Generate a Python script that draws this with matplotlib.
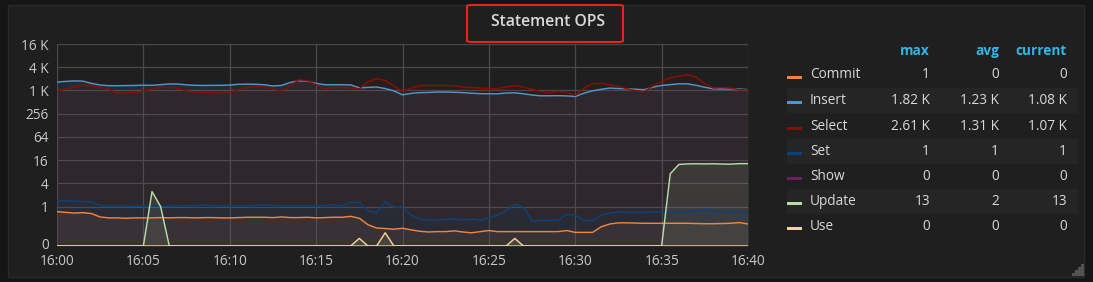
import numpy as np
import matplotlib
matplotlib.use("Agg")
import matplotlib.pyplot as plt
import matplotlib.transforms as mtransforms
from matplotlib.patches import Rectangle, FancyBboxPatch
from matplotlib.lines import Line2D

# minutes after 16:00, one sample every 30 s
minutes = np.arange(0, 40.5, 0.5)

series_names = ["Commit", "Insert", "Select", "Set", "Show", "Update", "Use"]
series_colors = ["#EF843C", "#5195CE", "#890F02", "#0A437C", "#6D1F62", "#B7DBAB", "#F4D598"]

commit = [0.74, 0.71, 0.68, 0.70, 0.66, 0.54, 0.51, 0.51, 0.50, 0.51,
          0.51, 0.51, 0.52, 0.51, 0.52, 0.52, 0.51, 0.52, 0.52, 0.51,
          0.51, 0.52, 0.53, 0.53, 0.53, 0.52, 0.54, 0.52, 0.52, 0.53,
          0.51, 0.52, 0.53, 0.53, 0.56, 0.50, 0.34, 0.28, 0.27, 0.26,
          0.275, 0.25, 0.23, 0.22, 0.225, 0.225, 0.235, 0.22, 0.21, 0.225,
          0.24, 0.225, 0.225, 0.225, 0.225, 0.225, 0.225, 0.225, 0.225, 0.24,
          0.215, 0.215, 0.215, 0.30, 0.355, 0.38, 0.38, 0.375, 0.37, 0.37,
          0.37, 0.37, 0.37, 0.37, 0.365, 0.36, 0.36, 0.365, 0.37, 0.385,
          0.356]

insert = [1690, 1760, 1810, 1790, 1560, 1420, 1360, 1360, 1370, 1380,
          1400, 1390, 1450, 1510, 1500, 1430, 1390, 1380, 1390, 1390,
          1420, 1480, 1490, 1480, 1440, 1340, 1380, 1650, 1820, 1790,
          1560, 1440, 1440, 1440, 1430, 1200, 1230, 1260, 1150, 1000,
          790, 860, 900, 910, 930, 935, 920, 900, 870, 845,
          840, 840, 880, 890, 840, 780, 745, 745, 750, 740,
          715, 870, 1000, 1100, 1180, 1150, 1130, 1100, 1070, 1250,
          1380, 1450, 1520, 1520, 1390, 1240, 1130, 1120, 1120, 1110,
          1080]

select = [960, 1130, 1270, 1380, 1380, 1240, 1110, 880, 890, 910,
          1000, 1100, 1255, 1240, 1170, 1000, 920, 910, 890, 875,
          930, 1070, 1230, 1270, 1300, 1130, 970, 1350, 1940, 1850,
          1440, 1130, 1220, 1240, 1180, 1130, 1720, 2070, 1860, 1350,
          960, 1170, 1380, 1380, 1370, 1380, 1355, 1270, 1220, 1180,
          1150, 1130, 1270, 1355, 1255, 1100, 960, 875, 975, 920,
          760, 1170, 1530, 1570, 1440, 1320, 1130, 1010, 960, 1355,
          1770, 2190, 2400, 2610, 2270, 1530, 1180, 1220, 1170, 1070,
          1070]

set_ops = [1.43, 1.43, 1.40, 1.36, 1.30, 1.08, 1.03, 1.03, 1.03, 1.02,
           1.03, 1.03, 1.04, 1.03, 1.04, 1.05, 1.07, 1.10, 1.06, 1.04,
           1.04, 1.05, 1.05, 1.07, 1.13, 1.06, 1.05, 1.04, 1.05, 1.04,
           1.05, 1.07, 1.12, 1.05, 1.28, 1.30, 0.78, 0.70, 1.35, 0.97,
           0.97, 0.60, 0.47, 0.45, 0.44, 0.48, 0.47, 0.45, 0.48, 0.45,
           0.51, 0.60, 0.80, 1.17, 0.96, 0.43, 0.44, 0.44, 0.44, 0.63,
           0.60, 0.44, 0.44, 0.60, 0.68, 0.73, 0.71, 0.71, 0.71, 0.73,
           0.73, 0.71, 0.72, 0.73, 0.78, 0.85, 0.74, 0.72, 0.71, 0.73,
           0.70]

show = [0] * 81

update = [0, 0, 0, 0, 0, 0, 0, 0, 0, 0,
          0, 2.45, 1.0, 0, 0, 0, 0, 0, 0, 0,
          0, 0, 0, 0, 0, 0, 0, 0, 0, 0,
          0, 0, 0, 0, 0, 0, 0, 0, 0, 0,
          0, 0, 0, 0, 0, 0, 0, 0, 0, 0,
          0, 0, 0, 0, 0, 0, 0, 0, 0, 0,
          0, 0, 0, 0, 0, 0, 0, 0, 0, 0,
          0, 7.1, 12.4, 12.8, 12.9, 12.8, 12.9, 12.7, 12.6, 13.0,
          13.0]

use = [0] * 81
use[35] = 0.15
use[38] = 0.21
use[53] = 0.15

series_data = [commit, insert, select, set_ops, show, update, use]

legend_max = ["1", "1.82 K", "2.61 K", "1", "0", "13", "0"]
legend_avg = ["0", "1.23 K", "1.31 K", "1", "0", "2", "0"]
legend_cur = ["0", "1.08 K", "1.07 K", "1", "0", "13", "0"]

y_ticks = [1, 4, 16, 64, 256, 1024, 4096, 16384]
y_labels = ["1", "4", "16", "64", "256", "1 K", "4 K", "16 K"]
x_ticks = [0, 5, 10, 15, 20, 25, 30, 35, 40]
x_labels = ["16:00", "16:05", "16:10", "16:15", "16:20", "16:25", "16:30", "16:35", "16:40"]

W, H = 1093, 282
FONT = ["Open Sans", "DejaVu Sans"]
TXT = "#d8d9da"
PANEL = "#1f1f20"


def fx(px):
    return px / W


def fy(py):
    return 1 - py / H


fig = plt.figure(figsize=(W / 100, H / 100), dpi=100, facecolor="#151515")

# panel
fig.patches.append(Rectangle((fx(8), fy(277)), fx(1084) - fx(8), fy(5) - fy(277),
                             transform=fig.transFigure, facecolor=PANEL,
                             edgecolor="#2a2a2b", lw=1, zorder=-5))
# title with red box
fig.patches.append(FancyBboxPatch((fx(467), fy(42)), fx(623) - fx(467), fy(5) - fy(42),
                                  boxstyle="round,pad=0,rounding_size=0.004",
                                  transform=fig.transFigure, facecolor="none",
                                  edgecolor="#e8231e", lw=1.5, zorder=2))
fig.text(fx(548), fy(22), "Statement OPS", ha="center", va="center", color=TXT,
         fontsize=11.3, fontweight="semibold", family=FONT)

bottom = 2 ** -3.39
top = 2 ** 14

ax = fig.add_axes([fx(57), fy(246), fx(748) - fx(57), fy(44) - fy(246)], zorder=1)
ax.set_facecolor("none")
ax.set_yscale("log", base=2)
ax.set_ylim(bottom, top)
ax.set_xlim(0, 40)

for name, color, vals in zip(series_names, series_colors, series_data):
    v = np.maximum(np.array(vals, dtype=float), bottom)
    ax.fill_between(minutes, v, bottom, color=color, alpha=0.1, lw=0, zorder=2)
    ax.plot(minutes, v, color=color, lw=1.05, zorder=3)

ax.set_yticks([bottom] + y_ticks)
ax.set_yticklabels(["0"] + y_labels)
ax.yaxis.set_minor_locator(matplotlib.ticker.NullLocator())
ax.set_xticks(x_ticks)
ax.set_xticklabels(x_labels)
ax.tick_params(length=0, colors="#c8c9ca", labelsize=9.8, pad=6)
for lab in ax.get_xticklabels() + ax.get_yticklabels():
    lab.set_family(FONT)
ax.grid(True, color="#4a4a4c", lw=0.9, zorder=1)
for s in ax.spines.values():
    s.set_visible(False)

# "0" label sits a little above the bottom edge, no grid line there
ytl = ax.yaxis.get_major_ticks()
ytl[0].gridline.set_visible(False)
ytl[0].label1.set_transform(ytl[0].label1.get_transform() +
                            mtransforms.ScaledTranslation(0, 3 / 100, fig.dpi_scale_trans))

# legend table
row_y = [75, 100.5, 126, 151, 176, 201.5, 226.5]
col_r = [930, 999, 1067]
for x, h in zip(col_r, ["max", "avg", "current"]):
    fig.text(fx(x), fy(51), h, ha="right", va="center", color="#33b5e5",
             fontsize=9.8, fontweight="bold", family=FONT)
for i, (name, color) in enumerate(zip(series_names, series_colors)):
    y = row_y[i]
    if i % 2 == 1:
        fig.patches.append(Rectangle((fx(787), fy(y + 12.5)), fx(1078) - fx(787), 25 / H,
                                     transform=fig.transFigure, facecolor="#252526",
                                     lw=0, zorder=-1))
    fig.patches.append(Rectangle((fx(787), fy(y + 3.5)), fx(802) - fx(787), 3 / H,
                                 transform=fig.transFigure, facecolor=color, lw=0, zorder=2))
    fig.text(fx(810), fy(y), name, ha="left", va="center", color=TXT,
             fontsize=9.8, family=FONT)
    for x, vals in zip(col_r, [legend_max, legend_avg, legend_cur]):
        fig.text(fx(x), fy(y), vals[i], ha="right", va="center", color=TXT,
                 fontsize=9.8, family=FONT)

# resize handle dots
dots = [(1082, 265), (1079, 268), (1082, 268), (1076, 271), (1079, 271), (1082, 271),
        (1073, 274), (1076, 274), (1079, 274), (1082, 274)]
fig.add_artist(Line2D([fx(d[0]) for d in dots], [fy(d[1]) for d in dots], ls="none",
                      marker="s", ms=1.3, color="#555555", transform=fig.transFigure))

fig.savefig("out.png", dpi=100, facecolor=fig.get_facecolor())
